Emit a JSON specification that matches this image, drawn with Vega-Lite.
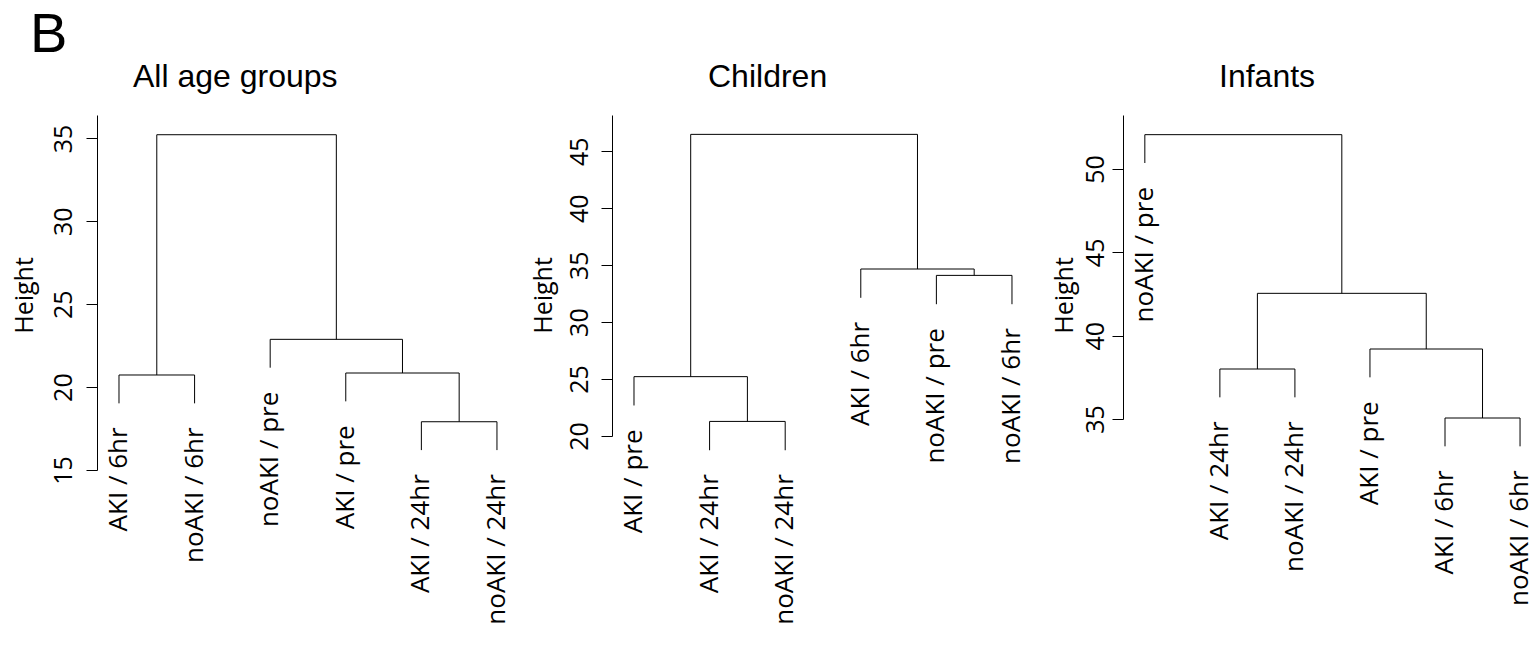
{
  "$schema": "https://vega.github.io/schema/vega-lite/v6.json",
  "background": "white",
  "padding": {"left": 12, "top": 7, "right": 0, "bottom": 0},
  "title": {"text": "B", "anchor": "start", "frame": "bounds", "dx": 18, "fontSize": 56, "font": "Liberation Sans", "fontWeight": "normal", "baseline": "alphabetic", "offset": -47, "color": "black"},
  "datasets": {
    "seg1": [
      {"x": 1, "x2": 1, "y": 19.02, "y2": 20.73}, {"x": 2, "x2": 2, "y": 19.02, "y2": 20.73},
      {"x": 1, "x2": 2, "y": 20.73, "y2": 20.73}, {"x": 1.5, "x2": 1.5, "y": 20.73, "y2": 35.22},
      {"x": 5, "x2": 5, "y": 16.2, "y2": 17.91}, {"x": 6, "x2": 6, "y": 16.2, "y2": 17.91},
      {"x": 5, "x2": 6, "y": 17.91, "y2": 17.91}, {"x": 5.5, "x2": 5.5, "y": 17.91, "y2": 20.85},
      {"x": 4, "x2": 4, "y": 19.14, "y2": 20.85}, {"x": 4, "x2": 5.5, "y": 20.85, "y2": 20.85},
      {"x": 4.75, "x2": 4.75, "y": 20.85, "y2": 22.88}, {"x": 3, "x2": 3, "y": 21.17, "y2": 22.88},
      {"x": 3, "x2": 4.75, "y": 22.88, "y2": 22.88}, {"x": 3.875, "x2": 3.875, "y": 22.88, "y2": 35.22},
      {"x": 1.5, "x2": 3.875, "y": 35.22, "y2": 35.22}
    ],
    "lab1": [
      {"x": 1, "y": 19.02, "label": "AKI / 6hr"}, {"x": 2, "y": 19.02, "label": "noAKI / 6hr"},
      {"x": 3, "y": 21.17, "label": "noAKI / pre"}, {"x": 4, "y": 19.14, "label": "AKI / pre"},
      {"x": 5, "y": 16.2, "label": "AKI / 24hr"}, {"x": 6, "y": 16.2, "label": "noAKI / 24hr"}
    ],
    "seg2": [
      {"x": 1, "x2": 1, "y": 22.68, "y2": 25.21}, {"x": 2, "x2": 2, "y": 18.75, "y2": 21.28},
      {"x": 3, "x2": 3, "y": 18.75, "y2": 21.28}, {"x": 2, "x2": 3, "y": 21.28, "y2": 21.28},
      {"x": 2.5, "x2": 2.5, "y": 21.28, "y2": 25.21}, {"x": 1, "x2": 2.5, "y": 25.21, "y2": 25.21},
      {"x": 1.75, "x2": 1.75, "y": 25.21, "y2": 46.48},
      {"x": 5, "x2": 5, "y": 31.57, "y2": 34.1}, {"x": 6, "x2": 6, "y": 31.57, "y2": 34.1},
      {"x": 5, "x2": 6, "y": 34.1, "y2": 34.1}, {"x": 5.5, "x2": 5.5, "y": 34.1, "y2": 34.66},
      {"x": 4, "x2": 4, "y": 32.13, "y2": 34.66}, {"x": 4, "x2": 5.5, "y": 34.66, "y2": 34.66},
      {"x": 4.75, "x2": 4.75, "y": 34.66, "y2": 46.48}, {"x": 1.75, "x2": 4.75, "y": 46.48, "y2": 46.48}
    ],
    "lab2": [
      {"x": 1, "y": 22.68, "label": "AKI / pre"}, {"x": 2, "y": 18.75, "label": "AKI / 24hr"},
      {"x": 3, "y": 18.75, "label": "noAKI / 24hr"}, {"x": 4, "y": 32.13, "label": "AKI / 6hr"},
      {"x": 5, "y": 31.57, "label": "noAKI / pre"}, {"x": 6, "y": 31.57, "label": "noAKI / 6hr"}
    ],
    "seg3": [
      {"x": 1, "x2": 1, "y": 50.36, "y2": 52.06}, {"x": 2, "x2": 2, "y": 36.3, "y2": 38.0},
      {"x": 3, "x2": 3, "y": 36.3, "y2": 38.0}, {"x": 2, "x2": 3, "y": 38.0, "y2": 38.0},
      {"x": 2.5, "x2": 2.5, "y": 38.0, "y2": 42.54},
      {"x": 5, "x2": 5, "y": 33.36, "y2": 35.06}, {"x": 6, "x2": 6, "y": 33.36, "y2": 35.06},
      {"x": 5, "x2": 6, "y": 35.06, "y2": 35.06}, {"x": 5.5, "x2": 5.5, "y": 35.06, "y2": 39.2},
      {"x": 4, "x2": 4, "y": 37.5, "y2": 39.2}, {"x": 4, "x2": 5.5, "y": 39.2, "y2": 39.2},
      {"x": 4.75, "x2": 4.75, "y": 39.2, "y2": 42.54}, {"x": 2.5, "x2": 4.75, "y": 42.54, "y2": 42.54},
      {"x": 3.625, "x2": 3.625, "y": 42.54, "y2": 52.06}, {"x": 1, "x2": 3.625, "y": 52.06, "y2": 52.06}
    ],
    "lab3": [
      {"x": 1, "y": 50.36, "label": "noAKI / pre"}, {"x": 2, "y": 36.3, "label": "AKI / 24hr"},
      {"x": 3, "y": 36.3, "label": "noAKI / 24hr"}, {"x": 4, "y": 37.5, "label": "AKI / pre"},
      {"x": 5, "y": 33.36, "label": "AKI / 6hr"}, {"x": 6, "y": 33.36, "label": "noAKI / 6hr"}
    ]
  },
  "spacing": 95,
  "bounds": "flush",
  "hconcat": [
    {
      "width": 420, "height": 355,
      "title": {"text": "All age groups", "dx": 36},
      "encoding": {
        "x": {"field": "x", "type": "quantitative", "scale": {"domain": [0.709, 6.265], "nice": false, "zero": false}, "axis": null},
        "y": {"field": "y", "type": "quantitative", "scale": {"domain": [15, 36.41], "nice": false, "zero": false},
              "axis": {"title": "Height", "values": [15, 20, 25, 30, 35], "labelPadding": 15, "titleX": -65, "titleY": 180}}
      },
      "layer": [
        {"data": {"name": "seg1"}, "mark": {"type": "rule", "color": "black", "strokeWidth": 1}, "encoding": {"x2": {"field": "x2"}, "y2": {"field": "y2"}}},
        {"data": {"name": "lab1"}, "mark": {"type": "text", "angle": 270, "align": "right", "baseline": "middle", "dx": -24, "font": "Open Sans", "fontSize": 26, "color": "black"}, "encoding": {"text": {"field": "label"}}}
      ]
    },
    {
      "width": 416, "height": 321,
      "title": {"text": "Children", "dx": 96},
      "encoding": {
        "x": {"field": "x", "type": "quantitative", "scale": {"domain": [0.709, 6.212], "nice": false, "zero": false}, "axis": null},
        "y": {"field": "y", "type": "quantitative", "scale": {"domain": [20, 48.18], "nice": false, "zero": false},
              "axis": {"title": "Height", "values": [20, 25, 30, 35, 40, 45], "labelPadding": 14, "titleX": -61, "titleY": 180}}
      },
      "layer": [
        {"data": {"name": "seg2"}, "mark": {"type": "rule", "color": "black", "strokeWidth": 1}, "encoding": {"x2": {"field": "x2"}, "y2": {"field": "y2"}}},
        {"data": {"name": "lab2"}, "mark": {"type": "text", "angle": 270, "align": "right", "baseline": "middle", "dx": -24, "font": "Open Sans", "fontSize": 26, "color": "black"}, "encoding": {"text": {"field": "label"}}}
      ]
    },
    {
      "width": 405, "height": 304,
      "title": {"text": "Infants", "dx": 96},
      "encoding": {
        "x": {"field": "x", "type": "quantitative", "scale": {"domain": [0.709, 6.106], "nice": false, "zero": false}, "axis": null},
        "y": {"field": "y", "type": "quantitative", "scale": {"domain": [35, 53.24], "nice": false, "zero": false},
              "axis": {"title": "Height", "values": [35, 40, 45, 50], "labelPadding": 9, "titleX": -51, "titleY": 180}}
      },
      "layer": [
        {"data": {"name": "seg3"}, "mark": {"type": "rule", "color": "black", "strokeWidth": 1}, "encoding": {"x2": {"field": "x2"}, "y2": {"field": "y2"}}},
        {"data": {"name": "lab3"}, "mark": {"type": "text", "angle": 270, "align": "right", "baseline": "middle", "dx": -24, "font": "Open Sans", "fontSize": 26, "color": "black"}, "encoding": {"text": {"field": "label"}}}
      ]
    }
  ],
  "config": {
    "view": {"stroke": null},
    "title": {"anchor": "start", "frame": "group", "fontSize": 32, "font": "Liberation Sans", "fontWeight": "normal", "baseline": "alphabetic", "offset": 21, "color": "black"},
    "axis": {
      "grid": false, "domainColor": "black", "domainWidth": 1, "tickColor": "black", "tickWidth": 1, "tickSize": 11,
      "labelColor": "black", "labelFont": "Open Sans", "labelFontSize": 25, "labelAngle": 270, "labelAlign": "center", "labelBaseline": "alphabetic",
      "titleColor": "black", "titleFont": "Open Sans", "titleFontSize": 25, "titleFontWeight": "normal", "titleAngle": 270,
      "titleAlign": "center", "titleBaseline": "alphabetic"
    }
  }
}
